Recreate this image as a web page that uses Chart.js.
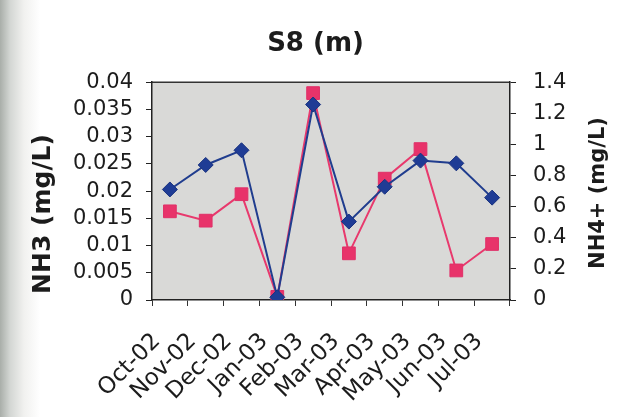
<!DOCTYPE html>
<html>
<head>
<meta charset="utf-8">
<script src="https://cdn.jsdelivr.net/npm/chart.js@4.4.1/dist/chart.umd.min.js"></script>
<style>
  html, body { margin: 0; padding: 0; }
  body {
    width: 631px; height: 417px; overflow: hidden;
    background: linear-gradient(to right, #a9aea9 0px, #d3d6d3 10px, #f1f1ef 24px, #ffffff 40px);
  }
  #wrap { position: relative; width: 631px; height: 417px; }
</style>
</head>
<body>
<div id="wrap"><canvas id="chart-S8"></canvas></div>
<script>
var months = ['Oct-02', 'Nov-02', 'Dec-02', 'Jan-03', 'Feb-03', 'Mar-03', 'Apr-03', 'May-03', 'Jun-03', 'Jul-03'];
var nh3 = [0.0203, 0.0248, 0.0275, 0.0005, 0.0359, 0.0144, 0.0208, 0.0256, 0.0251, 0.0188];
var nh4 = [0.57, 0.51, 0.68, 0.02, 1.33, 0.30, 0.78, 0.97, 0.19, 0.36];
var nh3Ticks = ['0', '0.005', '0.01', '0.015', '0.02', '0.025', '0.03', '0.035', '0.04'];
var nh4Ticks = ['0', '0.2', '0.4', '0.6', '0.8', '1', '1.2', '1.4'];
var chartTitle = 'S8 (m)';
var leftTitle = 'NH3 (mg/L)';
var rightTitle = 'NH4+ (mg/L)';

var ink = '#1c1c1c';

// grey plot area, top edge, and the two axis titles (both read bottom to top)
var plotBack = {
    id: 'plotBack',
    beforeDraw: function (chart) {
        var a = chart.chartArea, c = chart.ctx;
        c.save();
        c.fillStyle = '#d9d9d7';
        c.fillRect(a.left, a.top, a.right - a.left, a.bottom - a.top);
        c.strokeStyle = '#333333';
        c.lineWidth = 1.5;
        c.beginPath();
        c.moveTo(a.left, a.top);
        c.lineTo(a.right, a.top);
        c.stroke();
        c.restore();
    },
    afterDraw: function (chart) {
        var c = chart.ctx;
        c.save();
        c.fillStyle = ink;
        c.textAlign = 'center';
        c.textBaseline = 'middle';
        c.font = 'bold 25px "DejaVu Sans"';
        c.translate(43, 214);
        c.rotate(-Math.PI / 2);
        c.fillText(leftTitle, 0, 0);
        c.restore();
        c.save();
        c.fillStyle = ink;
        c.textAlign = 'center';
        c.textBaseline = 'middle';
        c.font = 'bold 21px "DejaVu Sans"';
        c.translate(599, 193);
        c.rotate(-Math.PI / 2);
        c.fillText(rightTitle, 0, 0);
        c.restore();
    }
};

var ctx = document.getElementById('chart-S8').getContext('2d');
var chart = new Chart(ctx, {
    type: 'line',
    data: {
        labels: months,
        datasets: [{
            label: leftTitle,
            data: nh3,
            yAxisID: 'y',
            borderColor: '#203d8e',
            backgroundColor: '#1f3c95',
            borderWidth: 2,
            pointStyle: 'rectRot',
            pointRadius: 7.5,
            pointBorderWidth: 1,
            pointBorderColor: '#1a3380'
        }, {
            label: rightTitle,
            data: nh4,
            yAxisID: 'y1',
            borderColor: '#e8396d',
            backgroundColor: '#e8336a',
            borderWidth: 2,
            pointStyle: 'rect',
            pointRadius: 9,
            pointBorderWidth: 1,
            pointBorderColor: '#e03068'
        }]
    },
    options: {
        responsive: true,
        maintainAspectRatio: false,
        animation: false,
        layout: { padding: 0 },
        plugins: {
            legend: { display: false },
            tooltip: { enabled: false },
            title: {
                display: true,
                text: chartTitle,
                color: ink,
                font: { family: 'DejaVu Sans', size: 26, weight: 'bold' },
                padding: { top: 29, bottom: 22 }
            }
        },
        scales: {
            x: {
                offset: true,
                grid: { display: true, drawOnChartArea: false, offset: true, color: '#333333', tickLength: 6 },
                border: { display: true, color: '#222222', width: 1.5 },
                ticks: {
                    color: ink,
                    font: { family: 'DejaVu Sans', size: 23 },
                    autoSkip: false,
                    maxRotation: 45,
                    minRotation: 45,
                    padding: 22,
                    labelOffset: -13
                },
                afterFit: function (scale) { scale.height = 117; }
            },
            y: {
                position: 'left',
                min: 0,
                max: 0.04,
                ticks: {
                    stepSize: 0.005,
                    autoSkip: false,
                    color: ink,
                    font: { family: 'DejaVu Sans', size: 21 },
                    padding: 13,
                    callback: function (v, i) { return nh3Ticks[i]; }
                },
                grid: { drawOnChartArea: false, color: '#222222', tickLength: 6 },
                border: { display: true, color: '#222222', width: 1.5 },
                afterFit: function (scale) { scale.width = 152; }
            },
            y1: {
                position: 'right',
                min: 0,
                max: 1.4,
                ticks: {
                    stepSize: 0.2,
                    autoSkip: false,
                    color: ink,
                    font: { family: 'DejaVu Sans', size: 21 },
                    padding: 17,
                    callback: function (v, i) { return nh4Ticks[i]; }
                },
                grid: { drawOnChartArea: false, color: '#222222', tickLength: 6 },
                border: { display: true, color: '#222222', width: 1.5 },
                afterFit: function (scale) { scale.width = 121; }
            }
        }
    },
    plugins: [plotBack]
});
</script>
</body>
</html>
